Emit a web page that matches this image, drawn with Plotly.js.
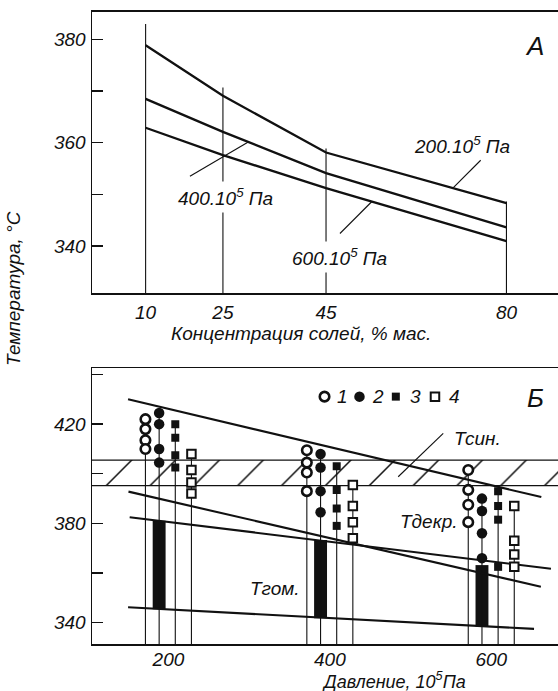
<!DOCTYPE html>
<html>
<head>
<meta charset="utf-8">
<script src="https://cdn.plot.ly/plotly-3.0.1.min.js"></script>
<style>
  html, body { margin: 0; padding: 0; background: #fff; }
  #chart { width: 558px; height: 691px; }
</style>
</head>
<body>
<div id="chart"></div>
<script>
// ---------- Panel А: temperature vs salt concentration ----------
const concentration = [10, 25, 45, 80];            // % mass
const temp200 = [378.9, 369.1, 358.1, 348.3];      // 200·10^5 Pa
const temp400 = [368.5, 362.1, 354.1, 343.6];      // 400·10^5 Pa
const temp600 = [362.9, 357.6, 351.2, 340.9];      // 600·10^5 Pa
const guideTop = [383.0, 370.7, 358.9, 348.6];     // top of the vertical guide at each concentration
const concTickLabels = ['10', '25', '45', '80'];

// ---------- Panel Б: temperature vs pressure ----------
const pressure = [200, 400, 600];                  // 10^5 Pa
const pressTickLabels = ['200', '400', '600'];
// experimental points, one row per pressure
const series1 = [[422.0, 418.0, 413.5, 410.0], [409.5, 404.5, 400.5, 393.0], [401.5, 393.5, 387.5, 380.5]];
const series2 = [[424.5, 420.0, 410.0, 404.5], [408.0, 402.5, 393.0, 384.5], [390.0, 385.0, 376.0, 366.0]];
const series3 = [[420.0, 414.5, 407.5, 402.5], [403.0, 393.5, 386.0, 379.0], [393.0, 387.0, 381.5, 362.5]];
const series4 = [[408.0, 401.5, 396.5, 392.0], [395.5, 387.0, 380.5, 374.0], [387.0, 373.0, 367.5, 362.5]];
const seriesNames = ['1', '2', '3', '4'];
// homogenisation interval (black bars)
const homTop = [381.1, 373.3, 363.2];
const homBottom = [345.4, 341.8, 338.4];
// synthesis band
const synthBand = [395.2, 405.5];
// boundary lines (end points)
const upperP = [150, 662], upperT = [430.0, 390.6];
const decrP = [150.5, 661.5], decrT = [392.8, 354.5];
const midP = [152, 674], midT = [382.5, 361.7];
const homP = [150, 653], homT = [346.2, 337.5];

// ---------- styling ----------
const INK = '#111';
const FONT = 'Liberation Sans, Arial, sans-serif';
const rangeAx = [-0.4, 90], rangeAy = [330.8, 385.4];
const rangeBx = [105.3, 682.7], rangeBy = [331.4, 442.5];
const seriesOffset = [-28.5, -11.5, 8.5, 28.5];   // horizontal spread of the four series around each pressure
const barWidth = 16;
// key row of panel Б (paper fractions)
const keyX = [0.499, 0.574, 0.652, 0.736];
const keyLabelX = [0.537, 0.613, 0.694, 0.777];
const keyY = 0.426;

const traces = [];

// Panel А guides
const gx = [], gy = [];
concentration.forEach((c, i) => { gx.push(c, c, null); gy.push(rangeAy[0], guideTop[i], null); });
traces.push({ x: gx, y: gy, mode: 'lines', line: { color: INK, width: 1.1 }, xaxis: 'x', yaxis: 'y',
  hoverinfo: 'skip' });

// Panel А curves
[temp200, temp400, temp600].forEach(t => {
  traces.push({ x: concentration, y: t, mode: 'lines', line: { color: INK, width: 2.3 },
    xaxis: 'x', yaxis: 'y' });
});

// Panel Б hatched synthesis band
traces.push({
  x: [rangeBx[0], rangeBx[1], rangeBx[1], rangeBx[0], rangeBx[0]],
  y: [synthBand[0], synthBand[0], synthBand[1], synthBand[1], synthBand[0]],
  mode: 'none', fill: 'toself', fillcolor: 'rgba(0,0,0,0)',
  fillpattern: { shape: '/', size: 31, solidity: 0.05, fgcolor: INK, bgcolor: 'rgba(0,0,0,0)' },
  xaxis: 'x2', yaxis: 'y2', hoverinfo: 'skip'
});
traces.push({
  x: [rangeBx[0], rangeBx[1], null, rangeBx[0], rangeBx[1]],
  y: [synthBand[0], synthBand[0], null, synthBand[1], synthBand[1]],
  mode: 'lines', line: { color: INK, width: 1.3 }, xaxis: 'x2', yaxis: 'y2', hoverinfo: 'skip'
});

// Panel Б vertical stems for each series
const allSeries = [series1, series2, series3, series4];
const sx = [], sy = [];
allSeries.forEach((ser, s) => {
  ser.forEach((vals, g) => {
    const xp = pressure[g] + seriesOffset[s];
    sx.push(xp, xp, null);
    sy.push(rangeBy[0], Math.max(...vals), null);
  });
});
traces.push({ x: sx, y: sy, mode: 'lines', line: { color: INK, width: 1.1 },
  xaxis: 'x2', yaxis: 'y2', hoverinfo: 'skip' });

// Panel Б boundary lines
[[upperP, upperT], [decrP, decrT], [midP, midT], [homP, homT]].forEach(([p, t]) => {
  traces.push({ x: p, y: t, mode: 'lines', line: { color: INK, width: 2.1 }, xaxis: 'x2', yaxis: 'y2' });
});

// Panel Б homogenisation bars
traces.push({
  type: 'bar', x: pressure.map(p => p + seriesOffset[1]),
  base: homBottom, y: homTop.map((t, i) => t - homBottom[i]),
  width: barWidth, marker: { color: INK, line: { width: 0 } },
  xaxis: 'x2', yaxis: 'y2'
});

// Panel Б experimental points
const markerStyles = [
  { symbol: 'circle', size: 9.5, color: '#fff', line: { color: INK, width: 2.6 } },
  { symbol: 'circle', size: 10.5, color: INK, line: { width: 0 } },
  { symbol: 'square', size: 8, color: INK, line: { width: 0 } },
  { symbol: 'square', size: 8.5, color: '#fff', line: { color: INK, width: 2 } }
];
allSeries.forEach((ser, s) => {
  const xs = [], ys = [];
  ser.forEach((vals, g) => vals.forEach(v => { xs.push(pressure[g] + seriesOffset[s]); ys.push(v); }));
  traces.push({ x: xs, y: ys, mode: 'markers', name: seriesNames[s], marker: markerStyles[s],
    xaxis: 'x2', yaxis: 'y2' });
});

// key symbols for the four series, on a hidden overlay axis in paper units
markerStyles.forEach((m, s) => {
  traces.push({ x: [keyX[s]], y: [keyY], mode: 'markers', marker: m, xaxis: 'x3', yaxis: 'y3',
    hoverinfo: 'skip' });
});

const tickFont = { family: FONT, size: 19, color: INK, style: 'italic' };
const labelFont = { family: FONT, size: 19, color: INK, style: 'italic' };
const bigFont = { family: FONT, size: 26, color: INK, style: 'italic' };

const baseAxis = {
  showgrid: false, zeroline: false, showline: true, linecolor: INK, linewidth: 1.5,
  tickfont: tickFont, fixedrange: true
};
const yTicks = { ticks: 'inside', ticklen: 11, tickwidth: 1.3, tickcolor: INK, ticklabelstandoff: 1 };

const layout = {
  width: 558, height: 691,
  margin: { l: 92, r: 0, t: 0, b: 0 },
  paper_bgcolor: '#fff', plot_bgcolor: 'rgba(0,0,0,0)',
  showlegend: false,
  xaxis: Object.assign({}, baseAxis, {
    domain: [0, 1], range: rangeAx, anchor: 'y', mirror: true,
    tickvals: concentration, ticktext: concTickLabels, ticks: '', ticklabelstandoff: 1
  }),
  yaxis: Object.assign({}, baseAxis, yTicks, {
    domain: [0.5755, 0.9831], range: rangeAy, anchor: 'x',
    tickvals: [340, 360, 380],
    minor: { tick0: 340, dtick: 10, ticks: 'inside', ticklen: 11, tickwidth: 1.3, tickcolor: INK, showgrid: false }
  }),
  xaxis2: Object.assign({}, baseAxis, {
    domain: [0, 1], range: rangeBx, anchor: 'y2', mirror: true,
    tickvals: pressure, ticktext: pressTickLabels, ticks: '', ticklabelstandoff: -2
  }),
  yaxis2: Object.assign({}, baseAxis, yTicks, {
    domain: [0.0680, 0.4670], range: rangeBy, anchor: 'x2',
    tickvals: [340, 380, 420],
    minor: { tick0: 340, dtick: 20, ticks: 'inside', ticklen: 11, tickwidth: 1.3, tickcolor: INK, showgrid: false }
  }),
  xaxis3: { domain: [0, 1], range: [0, 1], anchor: 'y3', visible: false, fixedrange: true },
  yaxis3: { domain: [0, 1], range: [0, 1], anchor: 'x3', visible: false, fixedrange: true },
  shapes: [
    // leader lines from the curve labels
    { type: 'line', xref: 'x', yref: 'y', x0: 75.0, y0: 356.6, x1: 69.6, y1: 351.2, line: { color: INK, width: 1.1 } },
    { type: 'line', xref: 'x', yref: 'y', x0: 18.6, y0: 353.5, x1: 30.0, y1: 360.2, line: { color: INK, width: 1.1 } },
    { type: 'line', xref: 'x', yref: 'y', x0: 47.7, y0: 342.4, x1: 53.9, y1: 348.6, line: { color: INK, width: 1.1 } },
    { type: 'line', xref: 'x2', yref: 'y2', x0: 540.5, y0: 416.3, x1: 484.7, y1: 398.8, line: { color: INK, width: 1.1 } }
  ],
  annotations: [
    { xref: 'x', yref: 'y', x: 85.5, y: 378.7, text: 'А', showarrow: false, font: bigFont },
    { xref: 'x2', yref: 'y2', x: 654.9, y: 430.4, text: 'Б', showarrow: false, font: bigFont },
    { xref: 'x', yref: 'y', x: 71.4, y: 359.6, text: '200.10<sup>5</sup> Па', showarrow: false, font: labelFont },
    { xref: 'x', yref: 'y', x: 25.5, y: 349.5, text: '400.10<sup>5</sup> Па', showarrow: false, font: labelFont,
      bgcolor: '#fff', borderpad: 3 },
    { xref: 'x', yref: 'y', x: 47.7, y: 337.9, text: '600.10<sup>5</sup> Па', showarrow: false, font: labelFont,
      bgcolor: '#fff', borderpad: 3 },
    { xref: 'x2', yref: 'y2', x: 583.5, y: 414.3, text: 'Тсин.', showarrow: false, font: labelFont },
    { xref: 'x2', yref: 'y2', x: 522.8, y: 380.7, text: 'Тдекр.', showarrow: false, font: labelFont },
    { xref: 'x2', yref: 'y2', x: 331.8, y: 353.8, text: 'Тгом.', showarrow: false, font: labelFont },
    { xref: 'paper', yref: 'paper', x: 0.4485, y: 0.518, xanchor: 'center', yanchor: 'middle',
      text: 'Концентрация солей, % мас.', showarrow: false, font: labelFont },
    { xref: 'paper', yref: 'paper', x: 0.648, y: 0.0152, xanchor: 'center', yanchor: 'middle',
      text: 'Давление, 10<sup>5</sup>Па', showarrow: false,
      font: { family: FONT, size: 18, color: INK, style: 'italic' } },
    { xref: 'paper', yref: 'paper', x: -0.167, y: 0.582, xanchor: 'center', yanchor: 'middle',
      text: 'Температура, °C', textangle: -90, showarrow: false, font: labelFont }
  ].concat(seriesNames.map((n, s) => ({
    xref: 'paper', yref: 'paper', x: keyLabelX[s], y: keyY, xanchor: 'center', yanchor: 'middle',
    text: n, showarrow: false, font: labelFont
  })))
};

Plotly.newPlot('chart', traces, layout, { staticPlot: true, displayModeBar: false });
</script>
</body>
</html>
